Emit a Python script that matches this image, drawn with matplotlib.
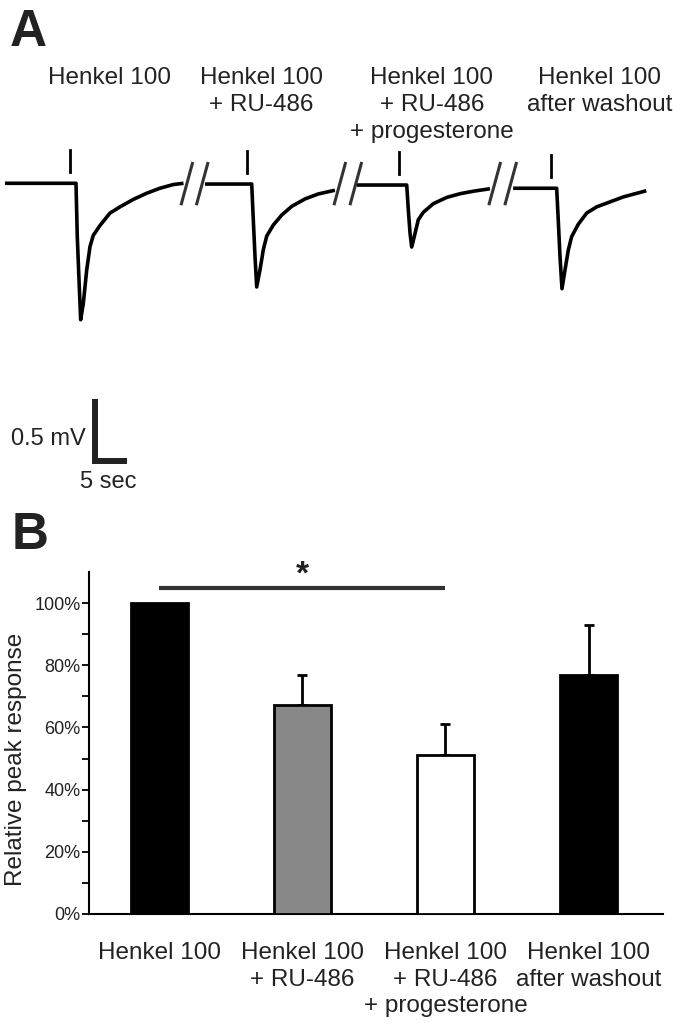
"""Henkel 100 responses: example traces (A) and relative peak response bars (B)."""

import numpy as np
import matplotlib.pyplot as plt

plt.rcParams['font.family'] = ['Liberation Sans', 'DejaVu Sans']

conditions = ["Henkel 100",
              "Henkel 100\n+ RU-486",
              "Henkel 100\n+ RU-486\n+ progesterone",
              "Henkel 100\nafter washout"]
relative_peak = [100.0, 67.2, 51.0, 76.8]
error_upper = [0.0, 9.6, 10.1, 16.0]
bar_colors = ['black', '#888888', 'white', 'black']

# example traces, time relative to stimulus onset (s) and potential (mV)
trace_onsets = [11.875, 39.33, 63.55, 86.98]
trace_baselines = [0.0, -0.006, -0.014, -0.04]
stim_offsets = [-0.94, -0.73, -1.2, -0.9]
trace1_t = [-11.1, 0.0, 0.20, 0.47, 0.73, 1.14, 1.67, 2.19, 2.70, 3.75, 5.31, 6.88, 8.95, 11.05, 13.1, 15.2, 16.8]
trace1_mv = [0.0, 0.0, -0.43, -0.78, -1.10, -0.97, -0.70, -0.51, -0.42, -0.34, -0.24, -0.19, -0.13, -0.08,
             -0.04, -0.01, 0.0]
trace2_t = [-7.3, 0.0, 0.25, 0.52, 0.78, 1.30, 1.81, 2.34, 3.38, 4.69, 6.25, 8.33, 10.4, 13.0]
trace2_mv = [0.0, 0.0, -0.29, -0.59, -0.83, -0.69, -0.53, -0.42, -0.33, -0.25, -0.18, -0.12, -0.08, -0.05]
trace3_t = [-7.8, 0.0, 0.25, 0.52, 0.78, 1.30, 1.81, 2.59, 4.16, 6.25, 8.33, 10.4, 13.0]
trace3_mv = [0.0, 0.0, -0.20, -0.39, -0.50, -0.39, -0.28, -0.22, -0.15, -0.10, -0.07, -0.05, -0.03]
trace4_t = [-6.8, 0.0, 0.25, 0.52, 0.83, 1.30, 1.81, 2.34, 3.38, 4.69, 6.25, 8.33, 10.4, 14.0]
trace4_mv = [0.0, 0.0, -0.26, -0.55, -0.81, -0.66, -0.50, -0.39, -0.29, -0.20, -0.15, -0.11, -0.07, -0.02]
break_centers = [29.2, 31.6, 53.1, 55.6, 77.3, 79.8]

TEXT = '#222222'
BASE_PX = 183.3   # pixel row of the trace baseline
PX_PER_S = 6.4
PX_PER_MV = 124

fig = plt.figure(figsize=(7, 10.25), dpi=100)

# ---- panel A: traces ----
axA = fig.add_axes([0, 1 - 500 / 1025, 1, 360 / 1025])
axA.set_xlim(0, 700 / PX_PER_S)
axA.set_ylim((BASE_PX - 500) / PX_PER_MV, (BASE_PX - 140) / PX_PER_MV)
axA.axis('off')

traces = [(trace1_t, trace1_mv), (trace2_t, trace2_mv), (trace3_t, trace3_mv), (trace4_t, trace4_mv)]
for onset, base, stim, (t, mv) in zip(trace_onsets, trace_baselines, stim_offsets, traces):
    axA.plot(onset + np.array(t), base + np.array(mv), color='black', lw=2.6,
             solid_joinstyle='round', solid_capstyle='butt')
    # stimulus marker
    axA.plot([onset + stim] * 2, [base + 0.09, base + 0.27], color='black', lw=2.0)

for c in break_centers:
    axA.plot([c - 0.86, c + 0.86], [-0.165, 0.16], color='#333333', lw=2.2)

# scale bar
sx, sy = 14.84, -2.236
axA.plot([sx, sx, sx + 5], [sy + 0.5, sy, sy], color=TEXT, lw=4.3,
         solid_joinstyle='miter', solid_capstyle='butt')
axA.text(sx - 1.5, sy + 0.17, "0.5 mV", ha='right', va='center', fontsize=17, color=TEXT)
axA.text(sx + 2.1, sy - 0.17, "5 sec", ha='center', va='center', fontsize=17, color=TEXT)

label_x = [110, 261, 432, 600]
for x, lab in zip(label_x, conditions):
    fig.text(x / 700, 1 - 67 / 1025, lab, ha='center', va='top', multialignment='center',
             fontsize=17.5, color=TEXT, linespacing=1.28)

fig.text(10 / 700, 1 - 8 / 1025, "A", fontsize=37, fontweight='bold', color=TEXT, va='top', ha='left')
fig.text(12 / 700, 1 - 511 / 1025, "B", fontsize=37, fontweight='bold', color=TEXT, va='top', ha='left')

# ---- panel B: bars ----
axB = fig.add_axes([89 / 700, 1 - 914 / 1025, 574 / 700, 342 / 1025])
x = np.arange(len(conditions))
axB.bar(x, relative_peak, width=0.4, color=bar_colors, edgecolor='black', linewidth=2.0, zorder=3)
has_err = np.array(error_upper) > 0
axB.errorbar(x[has_err], np.array(relative_peak)[has_err],
             yerr=[np.zeros(has_err.sum()), np.array(error_upper)[has_err]],
             fmt='none', ecolor='black', elinewidth=2.0, capsize=3.6, capthick=2.0, zorder=2)

axB.set_xlim(-0.49, 3.52)
axB.set_ylim(0, 110)
axB.spines[['top', 'right']].set_visible(False)
for side in ['left', 'bottom']:
    axB.spines[side].set_linewidth(1.5)
    axB.spines[side].set_color('black')

axB.set_yticks(np.arange(0, 101, 20))
axB.set_yticklabels([f"{v}%" for v in range(0, 101, 20)])
axB.set_yticks(np.arange(10, 100, 20), minor=True)
axB.tick_params(axis='y', which='both', length=5, width=1.3, pad=1, labelsize=13, labelcolor=TEXT)
axB.set_xticks(x)
axB.set_xticklabels(conditions, fontsize=17.5, color=TEXT, linespacing=1.28)
axB.tick_params(axis='x', length=0, pad=20)

axB.set_ylabel("Relative peak response", fontsize=17.5, color=TEXT)
axB.yaxis.set_label_coords(-0.108, 0.453)

# significance bar between first and third condition
axB.plot([0, 2], [104.9, 104.9], color='#333333', lw=3.0, solid_capstyle='butt', clip_on=False)
axB.text(1, 104.0, "*", ha='center', va='bottom', fontsize=24, fontweight='bold', color=TEXT)

fig.savefig("out.png", dpi=100)
